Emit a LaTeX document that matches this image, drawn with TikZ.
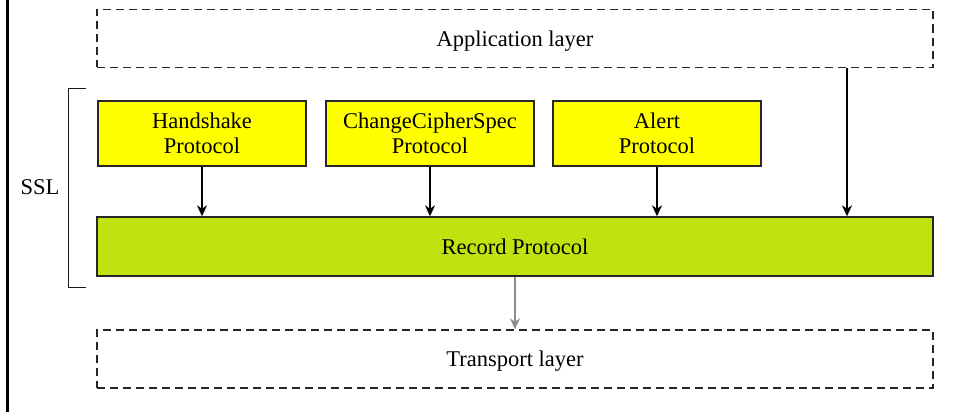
\documentclass[tikz,border=0pt]{standalone}
\usepackage{fontspec}
\setmainfont{Liberation Serif}
\usetikzlibrary{arrows.meta}
\definecolor{protoyellow}{HTML}{FFFF00}
\definecolor{recgreen}{HTML}{C0E20F}
\begin{document}
\begin{tikzpicture}[x=1pt,y=-1pt,
  font=\fontsize{22.5}{25.5}\selectfont,
  layerbox/.style={draw=black!85, line width=1.4pt, dash pattern=on 8pt off 5pt, minimum height=58pt, inner sep=0pt, text depth=0pt},
  protobox/.style={draw=black!85, line width=1.4pt, fill=protoyellow, minimum width=208pt, minimum height=65pt, inner sep=0pt, align=center},
  recbox/.style={draw=black!85, line width=1.4pt, fill=recgreen, minimum height=59pt, inner sep=0pt},
  flow/.style={line width=1.8pt, -{Stealth[length=11pt,width=10pt]}},
  grayflow/.style={line width=1.8pt, draw=black!45, -{Stealth[length=11pt,width=10pt]}}]
\useasboundingbox (0,0) rectangle (953,412);
\draw[line width=2.4pt] (7.5,0) -- (7.5,412);
\node[layerbox, minimum width=836pt] (app) at (515,38.5) {Application layer};
\node[protobox] (hs) at (202,133.5) {Handshake\\Protocol};
\node[protobox] (ccs) at (430,133.5) {ChangeCipherSpec\\Protocol};
\node[protobox] (alert) at (657,133.5) {Alert\\Protocol};
\node[recbox, minimum width=836pt] (rec) at (515,246.5) {Record Protocol};
\node[layerbox, minimum width=836pt] (tr) at (515,359) {Transport layer};
\node (ssl) at (40,187) {SSL};
\draw[line width=1.6pt, draw=black!90] (86,88.5) -- (68.5,88.5) -- (68.5,287.5) -- (86,287.5);
\draw[flow] (hs.south) -- (hs.south |- rec.north);
\draw[flow] (ccs.south) -- (ccs.south |- rec.north);
\draw[flow] (alert.south) -- (alert.south |- rec.north);
\draw[flow] (app.south -| 847,0) -- (rec.north -| 847,0);
\draw[grayflow] (rec.south) -- (tr.north);
\end{tikzpicture}
\end{document}
